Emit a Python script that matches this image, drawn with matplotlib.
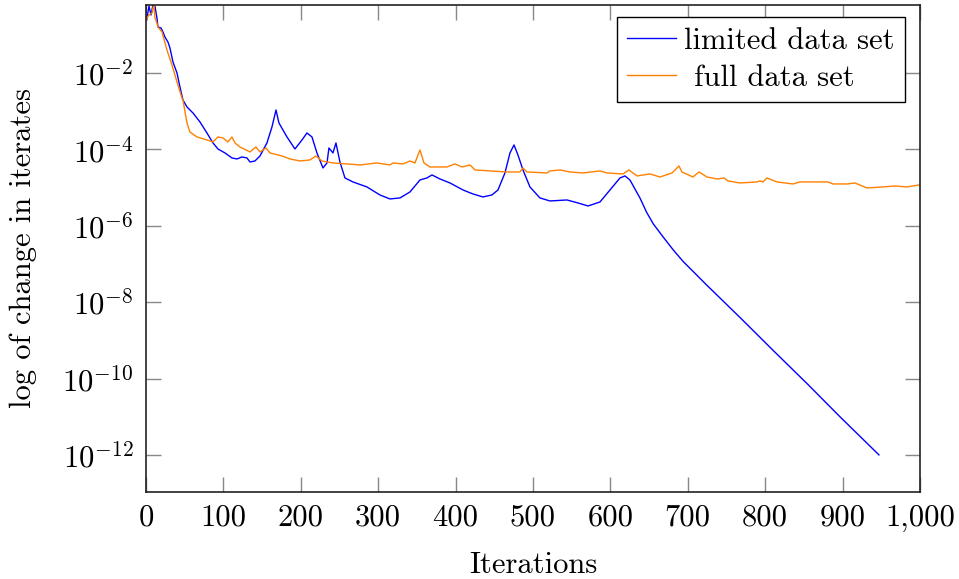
import numpy as np
import matplotlib
matplotlib.use("Agg")
import matplotlib.pyplot as plt
from matplotlib.ticker import FixedLocator, NullLocator

plt.rcParams['font.family'] = ['cmr10', 'DejaVu Serif']
plt.rcParams['mathtext.fontset'] = 'cm'
plt.rcParams['axes.unicode_minus'] = False

# ---- data (iteration, log10 of change) ----
limited_x = [0.9, 3.9, 6.5, 9.0, 11.6, 14.2, 15.5, 19.4, 22.0, 24.5, 28.4, 31.0, 34.9, 40.1,
             43.9, 47.8, 53.0, 60.7, 69.8, 78.8, 86.6, 93.0, 102.1, 111.1, 117.6, 124.0,
             130.5, 134.4, 140.8, 147.3, 156.3, 162.8, 168.0, 171.8, 182.2, 192.5, 201.6,
             208.0, 214.5, 220.9, 228.7, 233.9, 236.4, 241.6, 245.5, 250.6, 257.1, 267.4,
             285.5, 302.3, 315.2, 328.2, 341.1, 354.0, 363.0, 369.5, 379.8, 392.8, 409.6,
             422.5, 435.4, 447.0, 454.8, 463.8, 470.3, 475.5, 480.6, 487.1, 496.1, 509.0,
             522.0, 543.9, 558.1, 571.1, 586.6, 599.5, 612.4, 618.9, 625.3, 638.2, 646.9,
             655.4, 668.4, 681.3, 694.2, 707.1, 724.3, 767.4, 810.1, 854.0, 896.6, 947.0]
limited_log = [-0.613, -0.246, -0.482, -0.220, -0.246, -0.560, -0.796, -0.822, -0.927, -1.058,
               -1.188, -1.346, -1.712, -2.000, -2.366, -2.707, -2.890, -3.047, -3.283, -3.571,
               -3.832, -3.990, -4.094, -4.225, -4.251, -4.199, -4.225, -4.330, -4.304, -4.173,
               -3.832, -3.414, -2.969, -3.309, -3.675, -3.990, -3.754, -3.571, -3.675, -4.094,
               -4.487, -4.356, -3.963, -4.094, -3.832, -4.330, -4.749, -4.853, -4.984, -5.194,
               -5.298, -5.272, -5.115, -4.801, -4.749, -4.670, -4.775, -4.880, -5.063, -5.168,
               -5.246, -5.194, -5.063, -4.618, -4.094, -3.885, -4.147, -4.539, -4.984, -5.272,
               -5.351, -5.325, -5.403, -5.482, -5.377, -5.063, -4.749, -4.696, -4.801, -5.272,
               -5.650, -5.950, -6.300, -6.634, -6.940, -7.200, -7.550, -8.400, -9.260, -10.130,
               -11.000, -12.0]

full_x = [0.0, 1.3, 3.9, 7.8, 9.0, 10.3, 11.6, 14.2, 15.5, 20.7, 27.1, 33.6, 40.1, 46.5, 47.8,
          53.0, 56.8, 65.9, 78.8, 86.6, 93.0, 99.5, 105.9, 111.1, 115.0, 121.4, 134.4, 142.1,
          147.3, 155.0, 160.2, 175.7, 186.0, 199.0, 211.9, 219.6, 227.4, 241.6, 259.7, 276.5,
          298.4, 315.2, 319.1, 332.0, 341.1, 347.5, 354.0, 359.2, 366.9, 379.8, 388.9, 399.2,
          408.3, 418.6, 425.1, 444.4, 466.4, 483.2, 487.1, 492.2, 518.1, 522.0, 534.9, 547.8,
          564.6, 586.6, 595.6, 616.3, 624.0, 634.4, 651.2, 664.1, 679.6, 688.6, 692.5, 706.7,
          714.5, 724.8, 737.7, 746.8, 751.9, 767.4, 789.4, 793.3, 797.2, 802.3, 815.2, 835.9,
          845.0, 870.8, 881.1, 887.6, 905.7, 916.0, 931.5, 952.2, 967.7, 983.2, 998.7]
full_log = [-0.665, -0.560, -0.482, -0.429, -0.298, -0.220, -0.560, -0.691, -0.796, -0.927,
            -1.398, -1.791, -2.236, -2.654, -2.707, -3.309, -3.545, -3.675, -3.754, -3.806,
            -3.675, -3.702, -3.806, -3.675, -3.832, -3.937, -4.068, -3.937, -4.068, -3.963,
            -4.094, -4.173, -4.251, -4.304, -4.277, -4.173, -4.304, -4.356, -4.382, -4.408,
            -4.356, -4.408, -4.356, -4.382, -4.304, -4.356, -4.016, -4.356, -4.461, -4.461,
            -4.461, -4.382, -4.461, -4.408, -4.539, -4.565, -4.592, -4.592, -4.487, -4.592,
            -4.618, -4.565, -4.539, -4.592, -4.618, -4.565, -4.618, -4.644, -4.539, -4.696,
            -4.644, -4.723, -4.618, -4.435, -4.592, -4.723, -4.592, -4.723, -4.775, -4.749,
            -4.827, -4.880, -4.853, -4.827, -4.853, -4.749, -4.853, -4.906, -4.853, -4.853,
            -4.853, -4.906, -4.906, -4.880, -5.010, -4.984, -4.958, -4.984, -4.932]

labels = ["limited data set", "full data set"]
x_ticks = [0, 100, 200, 300, 400, 500, 600, 700, 800, 900, 1000]
x_ticklabels = ["0", "100", "200", "300", "400", "500", "600", "700", "800", "900", "1,000"]
y_ticks = [1e-2, 1e-4, 1e-6, 1e-8, 1e-10, 1e-12]
y_ticklabels = [r"$10^{-2}$", r"$10^{-4}$", r"$10^{-6}$", r"$10^{-8}$", r"$10^{-10}$", r"$10^{-12}$"]

limited_y = np.power(10.0, np.array(limited_log))
full_y = np.power(10.0, np.array(full_log))

FS = 22

fig = plt.figure(figsize=(9.59, 5.79), dpi=100)
ax = fig.add_axes([0.1522, 0.1503, 0.8071, 0.8411])

ax.plot(limited_x, limited_y, color=(0, 0, 1), lw=1.0, label=labels[0])
ax.plot(full_x, full_y, color=(1, 0.5, 0), lw=1.0, label=" " + labels[1])

ax.set_yscale('log')
ax.set_xlim(0, 1000)
ax.set_ylim(1.07e-13, 0.603)

ax.xaxis.set_major_locator(FixedLocator(x_ticks))
ax.set_xticklabels(x_ticklabels)
ax.yaxis.set_major_locator(FixedLocator(y_ticks))
ax.yaxis.set_minor_locator(NullLocator())
ax.set_yticklabels(y_ticklabels)

ax.tick_params(which='major', direction='in', length=11, width=1.0, color='#888888',
               top=True, right=True, labelsize=FS, pad=9)
for sp in ax.spines.values():
    sp.set_linewidth(1.2)
    sp.set_color('#222222')

ax.set_xlabel("Iterations", fontsize=FS, labelpad=14)
ax.set_ylabel("log of change in iterates", fontsize=FS, labelpad=18)

leg = ax.legend(loc='upper right', bbox_to_anchor=(905 / 959, 1 - 17 / 579),
                bbox_transform=fig.transFigure, fontsize=FS, frameon=True, fancybox=False,
                edgecolor='black', framealpha=1, borderaxespad=0.0,
                handlelength=1.6, handletextpad=0.25, borderpad=0.35, labelspacing=0.3)
leg.get_frame().set_linewidth(1.0)

fig.savefig("out.png", dpi=100)
